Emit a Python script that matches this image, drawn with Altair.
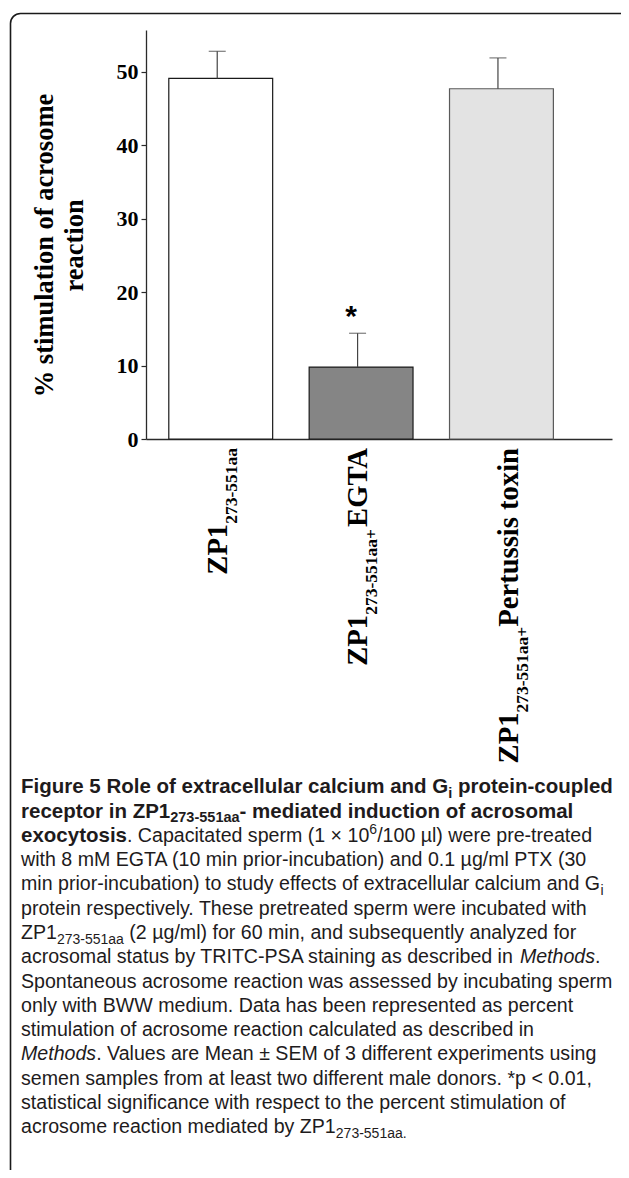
import altair as alt
import pandas as pd

# ---------------- data ----------------
categories = ["ZP1 273-551aa", "ZP1 273-551aa + EGTA", "ZP1 273-551aa + Pertussis toxin"]
means = [49.1, 9.8, 47.7]
upper_err = [52.8, 14.4, 51.9]          # mean + SEM
significance = ["", "*", ""]
label_parts = [
    [("ZP1", "main"), ("273-551aa", "sub")],
    [("ZP1", "main"), ("273-551aa", "sub"), ("+", "sub"), ("EGTA", "main")],
    [("ZP1", "main"), ("273-551aa", "sub"), ("+", "sub"), ("Pertussis toxin", "main")],
]
y_ticks = [0, 10, 20, 30, 40, 50]
y_title = ["% stimulation of acrosome", "reaction"]

caption_lines = [
    [("Figure 5 Role of extracellular calcium and G", "b"), ("i", "bsub"), (" protein-coupled", "b")],
    [("receptor in ZP1", "b"), ("273-551aa", "bsub"), ("- mediated induction of acrosomal", "b")],
    [("exocytosis", "b"), (". Capacitated sperm (1 \u00d7 10", "r"), ("6", "sup"), ("/100 \u00b5l) were pre-treated", "r")],
    [("with 8 mM EGTA (10 min prior-incubation) and 0.1 \u00b5g/ml PTX (30", "r")],
    [("min prior-incubation) to study effects of extracellular calcium and G", "r"), ("i", "sub")],
    [("protein respectively. These pretreated sperm were incubated with", "r")],
    [("ZP1", "r"), ("273-551aa", "sub"), (" (2 \u00b5g/ml) for 60 min, and subsequently analyzed for", "r")],
    [("acrosomal status by TRITC-PSA staining as described in ", "r"), ("Methods", "i"), (".", "r")],
    [("Spontaneous acrosome reaction was assessed by incubating sperm", "r")],
    [("only with BWW medium. Data has been represented as percent", "r")],
    [("stimulation of acrosome reaction calculated as described in", "r")],
    [("Methods", "i"), (". Values are Mean \u00b1 SEM of 3 different experiments using", "r")],
    [("semen samples from at least two different male donors. *p < 0.01,", "r")],
    [("statistical significance with respect to the percent stimulation of", "r")],
    [("acrosome reaction mediated by ZP1", "r"), ("273-551aa.", "sub")],
]

# ---------------- font metrics (per 1000 em) ----------------
def _mk(base, extra):
    d = dict(base)
    d.update(extra)
    return d

_digits = {str(i): 556 for i in range(10)}
ARIAL_REG = _mk(_digits, {
    ' ': 278, '(': 333, ')': 333, '*': 389, '+': 584, ',': 278, '-': 333, '.': 278, '/': 278,
    ':': 278, ';': 278, '<': 584, '\u00d7': 584, '\u00b5': 576, '\u00b1': 549,
    'A': 667, 'B': 667, 'C': 722, 'D': 722, 'E': 667, 'F': 611, 'G': 778, 'H': 722, 'I': 278, 'J': 500,
    'K': 667, 'L': 556, 'M': 833, 'N': 722, 'O': 778, 'P': 667, 'Q': 778, 'R': 722, 'S': 667, 'T': 611,
    'U': 722, 'V': 667, 'W': 944, 'X': 667, 'Y': 667, 'Z': 611,
    'a': 556, 'b': 556, 'c': 500, 'd': 556, 'e': 556, 'f': 278, 'g': 556, 'h': 556, 'i': 222, 'j': 222,
    'k': 500, 'l': 222, 'm': 833, 'n': 556, 'o': 556, 'p': 556, 'q': 556, 'r': 333, 's': 500, 't': 278,
    'u': 556, 'v': 500, 'w': 722, 'x': 500, 'y': 500, 'z': 500,
})
ARIAL_BOLD = _mk(_digits, {
    ' ': 278, '(': 333, ')': 333, '-': 333, '.': 278, ',': 278, '/': 278,
    'A': 722, 'B': 722, 'C': 722, 'D': 722, 'E': 667, 'F': 611, 'G': 778, 'H': 722, 'I': 278, 'J': 556,
    'K': 722, 'L': 611, 'M': 833, 'N': 722, 'O': 778, 'P': 667, 'Q': 778, 'R': 722, 'S': 667, 'T': 611,
    'U': 722, 'V': 667, 'W': 944, 'X': 667, 'Y': 667, 'Z': 611,
    'a': 556, 'b': 611, 'c': 556, 'd': 611, 'e': 556, 'f': 333, 'g': 611, 'h': 611, 'i': 278, 'j': 278,
    'k': 556, 'l': 278, 'm': 889, 'n': 611, 'o': 611, 'p': 611, 'q': 611, 'r': 389, 's': 556, 't': 333,
    'u': 611, 'v': 556, 'w': 778, 'x': 556, 'y': 556, 'z': 500,
})
TIMES_BOLD = {
    ' ': 250, '-': 333, '+': 570, '0': 500, '1': 500, '2': 500, '3': 500, '5': 500, '7': 500,
    'A': 722, 'E': 667, 'G': 778, 'P': 611, 'T': 667, 'Z': 667,
    'a': 500, 'e': 444, 'i': 278, 'n': 556, 'o': 500, 'r': 444, 's': 389, 't': 333, 'u': 556, 'x': 500,
}


def text_width(s, table, size):
    return sum(table.get(ch, 556) for ch in s) / 1000.0 * size


# ---------------- layout ----------------
W, H = 466, 409
PAD = {"left": 138, "top": 22, "right": 9, "bottom": 731}
Y_MAX = 55.7

LABEL_END_Y = 418
LABEL_MAIN_SIZE, LABEL_SUB_SIZE = 28.6, 17.5
LABEL_SUB_SHIFT = 10
label_dy = [6, 5.5, 16.5]

CAP_X0, CAP_Y0, CAP_LH = -125, 763.3, 24.29
CAP_STYLE = {
    "r": ("normal", 19.6, 0.0),
    "i": ("italic", 19.6, 0.0),
    "b": ("bold", 20.5, 0.0),
    "sub": ("normal", 14.0, 4.5),
    "bsub": ("bold", 14.5, 4.5),
    "sup": ("normal", 14.0, -7.5),
}

df = pd.DataFrame({"cat": categories, "mean": means, "upper": upper_err, "sig": significance})

x_enc = alt.X(
    "cat:N", sort=categories, title=None,
    scale=alt.Scale(domain=categories, paddingInner=0.26, paddingOuter=0.29, align=0.28),
    axis=alt.Axis(labels=False, ticks=False, title=None, domainColor="#2a2a2a", domainWidth=1.3),
)
y_scale = alt.Scale(domain=[0, Y_MAX], nice=False, zero=True)
y_axis = alt.Axis(
    values=y_ticks, grid=False, tickSize=5, tickColor="#2a2a2a", tickWidth=1.2,
    domainColor="#2a2a2a", domainWidth=1.3,
    labelFont="Liberation Serif", labelFontWeight="bold", labelFontSize=22, labelColor="black",
    labelPadding=3,
    title=y_title, titleFont="Liberation Serif", titleFontWeight="bold", titleFontSize=26.5,
    titleColor="black", titleLineHeight=30, titleAngle=270, titleAlign="center",
    titleBaseline="alphabetic", titleX=-94, titleY=215,
)

base = alt.Chart(df)

bars = base.mark_bar(strokeWidth=1.2).encode(
    x=x_enc,
    y=alt.Y("mean:Q", scale=y_scale, axis=y_axis),
    color=alt.Color("cat:N", scale=alt.Scale(domain=categories, range=["#ffffff", "#858585", "#e3e3e3"]), legend=None),
    stroke=alt.Stroke("cat:N", scale=alt.Scale(domain=categories, range=["#1a1a1a", "#1a1a1a", "#5a5a5a"]), legend=None),
)
err = base.mark_rule(color="#444444", strokeWidth=1.2, xOffset=-3.5).encode(
    x=x_enc, y=alt.Y("mean:Q", scale=y_scale), y2="upper:Q"
)
cap = base.mark_tick(color="#444444", thickness=1.2, size=17, xOffset=-3.5).encode(
    x=x_enc, y=alt.Y("upper:Q", scale=y_scale)
)
star = base.mark_text(
    font="Liberation Sans", fontWeight="bold", fontSize=30, color="black",
    baseline="alphabetic", dx=-10, dy=-7,
).encode(x=x_enc, y=alt.Y("upper:Q", scale=y_scale), text="sig:N")

label_layers = []
for ci, (cat, parts) in enumerate(zip(categories, label_parts)):
    widths = [
        text_width(t, TIMES_BOLD, LABEL_MAIN_SIZE if k == "main" else LABEL_SUB_SIZE)
        for t, k in parts
    ]
    for pi, (t, k) in enumerate(parts):
        after = sum(widths[pi + 1:])
        size = LABEL_MAIN_SIZE if k == "main" else LABEL_SUB_SIZE
        dy = label_dy[ci] + (LABEL_SUB_SHIFT if k == "sub" else 0)
        label_layers.append(
            base.transform_filter(alt.datum.cat == cat).mark_text(
                angle=270, align="right", baseline="alphabetic",
                font="Liberation Serif", fontWeight="bold", fontSize=size, color="black",
                dx=-after, dy=dy,
            ).encode(x=x_enc, y=alt.value(LABEL_END_Y), text=alt.value(t))
        )

inner = alt.layer(bars, err, cap, star, *label_layers)

# caption segments
rows = []
for i, line in enumerate(caption_lines):
    x = CAP_X0
    baseline = CAP_Y0 + i * CAP_LH
    for txt, st in line:
        layer, size, shift = CAP_STYLE[st]
        table = ARIAL_BOLD if layer == "bold" else ARIAL_REG
        lead = len(txt) - len(txt.lstrip(" "))
        rows.append({
            "text": txt.strip(),
            "x": x + text_width(" " * lead, table, size),
            "y": baseline + shift,
            "size": size,
            "layer": layer,
        })
        x += text_width(txt, table, size)
cap_df = pd.DataFrame(rows)

cap_layers = []
for layer, weight, style in [("normal", "normal", "normal"), ("bold", "bold", "normal"), ("italic", "normal", "italic")]:
    cap_layers.append(
        alt.Chart(cap_df).transform_filter(alt.datum.layer == layer).mark_text(
            align="left", baseline="alphabetic", font="Liberation Sans",
            fontWeight=weight, fontStyle=style, color="#1e1b1c",
        ).encode(
            x=alt.X("x:Q", scale=None, axis=None),
            y=alt.Y("y:Q", scale=None, axis=None),
            size=alt.Size("size:Q", scale=None, legend=None),
            text="text:N",
        )
    )

frame = alt.Chart(pd.DataFrame({"k": [0]})).mark_rect(
    filled=False, stroke="#1a1a1a", strokeWidth=1.6, cornerRadius=10,
).encode(
    x=alt.value(-135.5), x2=alt.value(520), y=alt.value(-16.5), y2=alt.value(1150)
)

chart = alt.layer(frame, inner, *cap_layers).resolve_scale(
    x="independent", y="independent", size="independent"
).properties(
    width=W, height=H,
    autosize=alt.AutoSizeParams(type="none"),
    padding=PAD,
).configure(background="white", view=alt.ViewConfig(stroke=None))

chart.save("out.html", embed_options={"renderer": "svg", "actions": False})
